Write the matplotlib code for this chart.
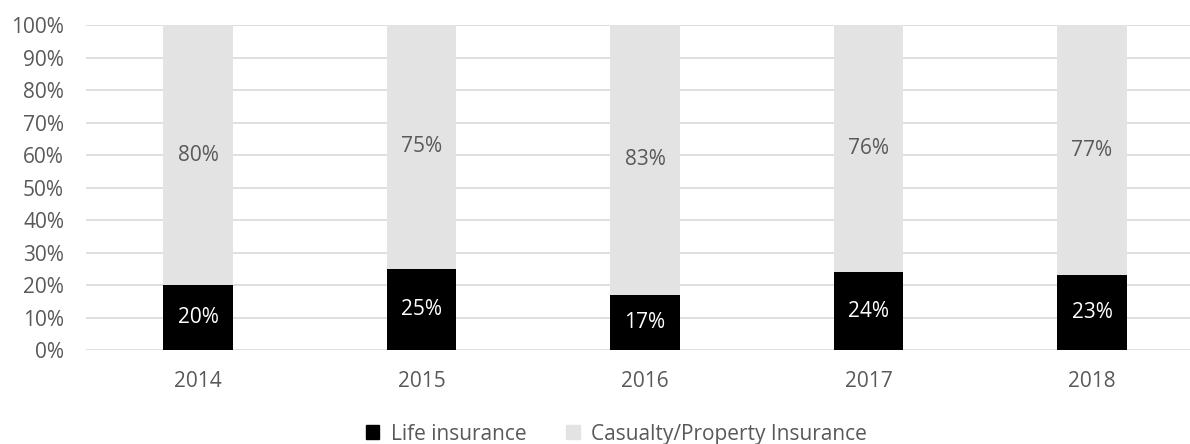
import numpy as np
import matplotlib.pyplot as plt
from matplotlib.patches import Patch

plt.rcParams['font.family'] = ['Open Sans', 'DejaVu Sans']

years = ['2014', '2015', '2016', '2017', '2018']
life = [20, 25, 17, 24, 23]
casualty = [80, 75, 83, 76, 77]

txt = '#595959'
fs = 15
fig = plt.figure(figsize=(11.9, 4.44), dpi=100)
ax = fig.add_axes([86.25/1190, 1-350/444, 1117.5/1190, 325/444])

x = np.arange(len(years))
w = 0.31
ax.bar(x, life, w, color='#000000', label='Life insurance', zorder=3)
ax.bar(x, casualty, w, bottom=life, color='#e3e3e3', label='Casualty/Property Insurance', zorder=3)

for i in range(len(years)):
    ax.text(x[i], life[i]/2, f'{life[i]}%', ha='center', va='center', color='white', fontsize=fs, zorder=4)
    ax.text(x[i], life[i] + casualty[i]/2, f'{casualty[i]}%', ha='center', va='center', color=txt, fontsize=fs, zorder=4)

ax.set_xlim(-0.5, len(years) - 0.5)
ax.set_ylim(0, 100)
ax.set_yticks(range(0, 101, 10))
ax.set_yticklabels([f'{v}%' for v in range(0, 101, 10)])
ax.set_xticks(x)
ax.set_xticklabels(years)
ax.tick_params(length=0, labelsize=fs, labelcolor=txt)
ax.tick_params(axis='x', pad=15)
ax.tick_params(axis='y', pad=16)
ax.grid(axis='y', color='#d9d9d9', linewidth=1.2, zorder=0)
for s in ax.spines.values():
    s.set_visible(False)

handles = [Patch(color='#000000'), Patch(color='#e3e3e3')]
fig.legend(handles, ['Life insurance', 'Casualty/Property Insurance'], loc='center',
           bbox_to_anchor=(0.518, 0.022), ncol=2, frameon=False, fontsize=15,
           labelcolor=txt, handlelength=0.65, handleheight=0.65, handletextpad=0.55, columnspacing=1.9)

fig.savefig('out.png', dpi=100)
